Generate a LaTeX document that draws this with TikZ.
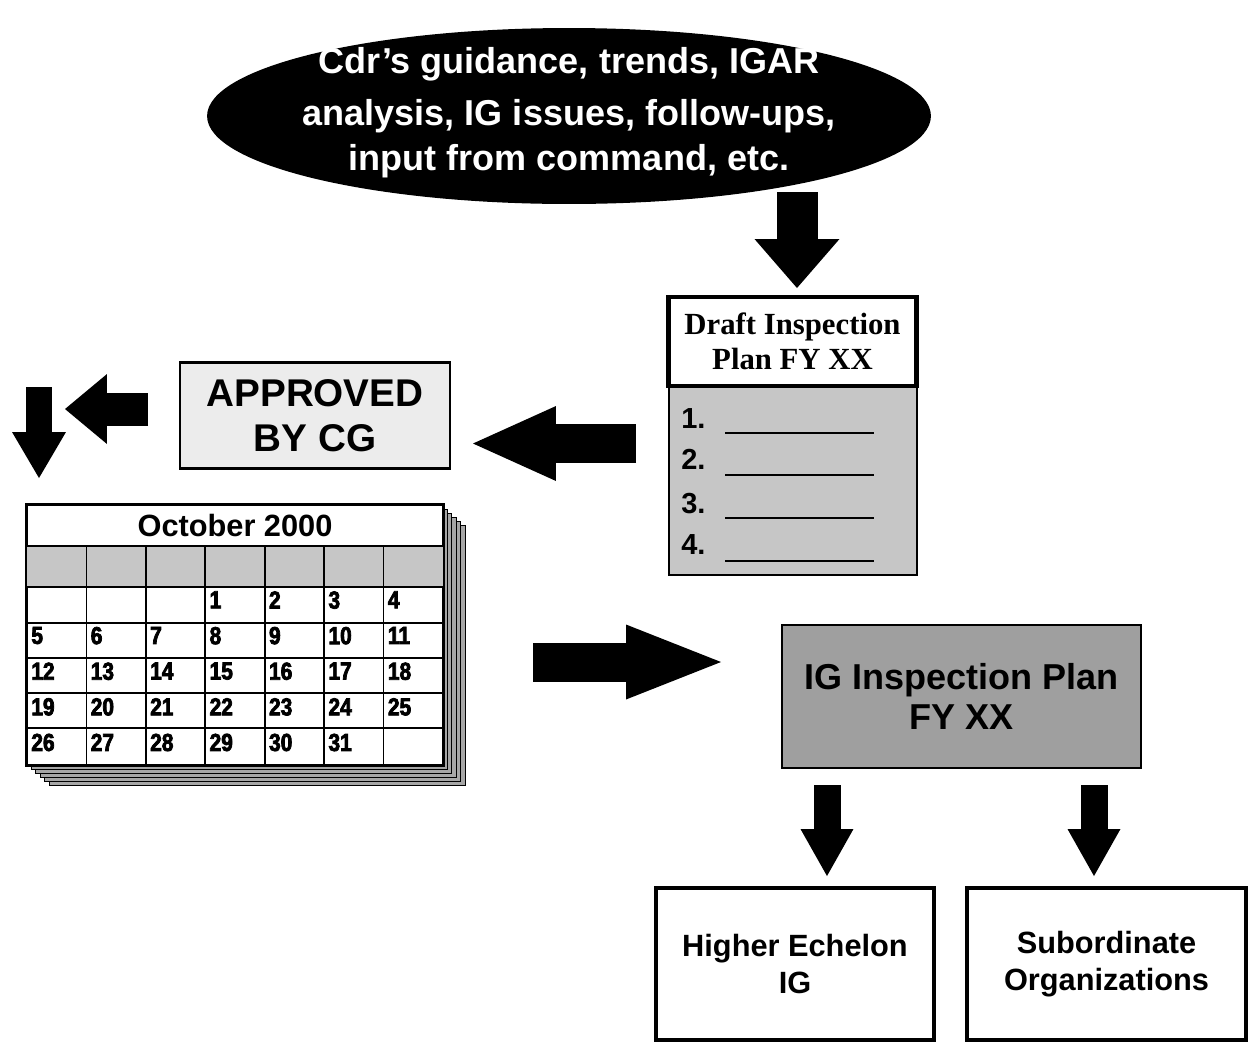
\documentclass[tikz,border=0pt]{standalone}
\usepackage{fontspec}
\setmainfont{Liberation Sans}
\newfontfamily\draftfont{Liberation Serif}
\newfontfamily\calfont{Liberation Sans}[BoldFeatures={FakeBold=3}, FakeStretch=0.85]
\usetikzlibrary{arrows.meta, shapes.geometric}

\begin{document}
\begin{tikzpicture}[x=0.02cm, y=-0.02cm,
    every node/.style={font=\bfseries},
    plainbox/.style={draw, rectangle, inner sep=0pt, align=center},
    blockarrow/.style n args={3}{line width=#1cm, -{Triangle[length=#2cm, width=#3cm, line width=0pt]}}]
    % Page frame
    \useasboundingbox (0,0) rectangle (1249,1046);

    % Sources
    \node[ellipse, fill=black, inner sep=0pt, minimum width=14.48cm, minimum height=3.52cm] (sources) at (569,116) {};
    \node[text=white, align=center, font=\bfseries\fontsize{20.5}{26}\selectfont] (sourcetext) at (569,113)
        {Cdr’s guidance, trends, IGAR\\[3.4pt] analysis, IG issues, follow-ups,\\ input from command, etc.};

    % Draft plan
    \node[plainbox, fill=gray!45, line width=1pt, minimum width=4.96cm, minimum height=3.78cm] (draftlist) at (793,480.5) {};
    \node[plainbox, fill=white, line width=2.4pt, minimum width=4.96cm, minimum height=1.78cm,
        font=\draftfont\bfseries\fontsize{17.5}{19.8}\selectfont] (drafttitle) at (792.5,341.5) {Draft Inspection\\Plan FY XX};
    \foreach \n/\y/\l in {1/428/433, 2/469/475, 3/513/518, 4/554/561}
    {
        \node[anchor=base west, inner sep=0pt, font=\bfseries\fontsize{16.5}{16.5}\selectfont] (item\n) at (681,\y) {\n.};
        \draw[line width=1.6pt] (725,\l) -- (874,\l);
    }

    % Approval
    \node[plainbox, fill=gray!15, line width=1.2pt, minimum width=5.4cm, minimum height=2.12cm,
        font=\bfseries\fontsize{22}{25.5}\selectfont] (approved) at (315,415.5) {APPROVED\\BY CG};

    % Calendar pages
    \foreach \k in {5,4,...,1}
    {
        \draw[fill=gray!70, line width=0.5pt] (27+4.4*\k,505+4*\k) rectangle (443+4.4*\k,765+4*\k);
    }
    \node[draw, rectangle, fill=white, inner sep=0pt, line width=1pt, minimum width=8.32cm, minimum height=5.2cm] (calendar) at (235,635) {};
    \node[font=\bfseries\fontsize{17.5}{17.5}\selectfont] (caltitle) at (235,526) {October 2000};
    \fill[gray!45] (27,546) rectangle (443,587);
    \foreach \y in {546,587,623,658,693,728}
    {
        \draw[line width=1pt] (27,\y) -- (443,\y);
    }
    \foreach \i in {1,...,6}
    {
        \draw[line width=1pt] (27+59.43*\i,546) -- (27+59.43*\i,765);
    }
    \draw[line width=1pt] (calendar.north west) rectangle (calendar.south east);
    % Days
    \foreach \d in {1,...,31}
    {
        \pgfmathtruncatemacro{\p}{\d+2}
        \pgfmathtruncatemacro{\c}{mod(\p,7)}
        \pgfmathtruncatemacro{\r}{floor(\p/7)}
        \node[anchor=north west, inner sep=0pt, font=\calfont\bfseries\fontsize{14}{14}\selectfont] (day\d) at (31+59.43*\c,591+35.6*\r) {\d};
    }

    % Final plan
    \node[plainbox, fill=gray!75, line width=1pt, minimum width=7.18cm, minimum height=2.86cm,
        font=\bfseries\fontsize{20.5}{23.2}\selectfont] (igplan) at (961.5,696.5) {IG Inspection Plan\\FY XX};

    % Distribution
    \node[plainbox, line width=1.8pt, minimum width=5.56cm, minimum height=3.04cm,
        font=\bfseries\fontsize{17.5}{21}\selectfont] (higherig) at (795,964) {Higher Echelon\\IG};
    \node[plainbox, line width=1.8pt, minimum width=5.58cm, minimum height=3.04cm,
        font=\bfseries\fontsize{17.5}{21}\selectfont] (subord) at (1106.5,964) {Subordinate\\Organizations};

    % Arrow ends
    \coordinate (srcout) at (797,192);
    \coordinate (draftin) at (797,288);
    \coordinate (draftout) at (636,443.5);
    \coordinate (apprin) at (473,443.5);
    \coordinate (approut) at (148,409);
    \coordinate (turn) at (65,409);
    \coordinate (calin) at (39,387);
    \coordinate (caltop) at (39,478);
    \coordinate (calout) at (533,662);
    \coordinate (igin) at (721,662);
    \coordinate (higherout) at (827,785);
    \coordinate (higherin) at (827,876);
    \coordinate (subout) at (1094,785);
    \coordinate (subin) at (1094,876);

    % Arrows
    \draw[blockarrow={0.82}{0.98}{1.7}] (srcout) -- (draftin);
    \draw[blockarrow={0.78}{1.66}{1.5}] (draftout) -- (apprin);
    \draw[blockarrow={0.66}{0.84}{1.4}] (approut) -- (turn);
    \draw[blockarrow={0.52}{0.92}{1.08}] (calin) -- (caltop);
    \draw[blockarrow={0.78}{1.9}{1.5}] (calout) -- (igin);
    \draw[blockarrow={0.54}{0.94}{1.06}] (higherout) -- (higherin);
    \draw[blockarrow={0.54}{0.94}{1.06}] (subout) -- (subin);
\end{tikzpicture}
\end{document}
